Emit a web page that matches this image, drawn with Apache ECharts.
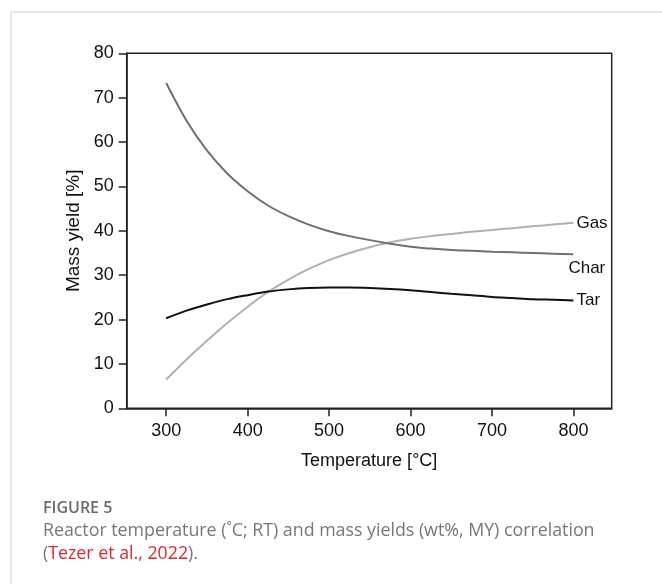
<!DOCTYPE html>
<html>
<head>
<meta charset="utf-8">
<script src="https://cdn.jsdelivr.net/npm/echarts@6/dist/echarts.min.js"></script>
<style>html,body{margin:0;padding:0;background:#fff;}#c{width:662px;height:584px;}</style>
</head>
<body>
<div id="c"></div>
<script>
// Data
var temperatures = [300, 325, 350, 375, 400, 425, 450, 475, 500, 525, 550, 575, 600, 625, 650, 675, 700, 725, 750, 775, 800];
var gasYield  = [6.5, 11.0, 15.2, 19.2, 22.9, 26.2, 29.0, 31.4, 33.4, 35.0, 36.3, 37.4, 38.2, 38.8, 39.3, 39.8, 40.2, 40.6, 41.0, 41.4, 41.8];
var charYield = [73.3, 64.8, 58.1, 52.9, 48.9, 45.7, 43.3, 41.4, 39.9, 38.8, 37.9, 37.1, 36.4, 36.0, 35.7, 35.5, 35.3, 35.15, 35.0, 34.85, 34.7];
var tarYield  = [20.3, 22.0, 23.4, 24.6, 25.5, 26.3, 26.8, 27.1, 27.2, 27.2, 27.1, 26.9, 26.6, 26.2, 25.8, 25.45, 25.1, 24.85, 24.6, 24.45, 24.3];
var xTicks = [300, 400, 500, 600, 700, 800];
var yTicks = [0, 10, 20, 30, 40, 50, 60, 70, 80];
var seriesNames = ['Gas', 'Char', 'Tar'];

function pairs(vals) { return temperatures.map(function (t, i) { return [t, vals[i]]; }); }

var FONT = '"Liberation Sans", Arial, sans-serif';
var chart = echarts.init(document.getElementById('c'), null, {renderer: 'canvas'});
var axisCol = '#222';

chart.setOption({
  animation: false,
  backgroundColor: '#fff',
  grid: {left: 126.7, top: 53.3, right: 50.3, bottom: 175.7, outerBoundsMode: 'none',
         show: true, borderColor: axisCol, borderWidth: 1.5, backgroundColor: 'transparent'},
  xAxis: {
    type: 'value', min: 251.5, max: 847,
    name: 'Temperature [°C]', nameLocation: 'middle', nameGap: 44,
    nameTextStyle: {fontFamily: FONT, fontSize: 18, color: '#111'},
    axisLine: {show: true, lineStyle: {color: axisCol, width: 1.5}},
    axisTick: {show: true, length: 8, lineStyle: {color: axisCol, width: 1.5}, customValues: xTicks},
    axisLabel: {fontFamily: FONT, fontSize: 18, color: '#111', margin: 14, customValues: xTicks},
    splitLine: {show: false}
  },
  yAxis: {
    type: 'value', min: 0, max: 80,
    name: 'Mass yield [%]', nameLocation: 'middle', nameGap: 41,
    nameTextStyle: {fontFamily: FONT, fontSize: 19, color: '#111'},
    axisLine: {show: true, lineStyle: {color: axisCol, width: 1.5}},
    axisTick: {show: true, length: 8, lineStyle: {color: axisCol, width: 1.5}, customValues: yTicks},
    axisLabel: {fontFamily: FONT, fontSize: 18, color: '#111', margin: 13, customValues: yTicks},
    splitLine: {show: false}
  },
  series: [
    {name: seriesNames[0], type: 'line', smooth: 0.3, showSymbol: false, data: pairs(gasYield),
     lineStyle: {color: '#b0b0b0', width: 2},
     endLabel: {show: true, formatter: '{a}', fontFamily: FONT, fontSize: 17, color: '#111', distance: 3}},
    {name: seriesNames[1], type: 'line', smooth: 0.3, showSymbol: false, data: pairs(charYield),
     lineStyle: {color: '#707070', width: 2},
     endLabel: {show: true, formatter: '{a}', fontFamily: FONT, fontSize: 17, color: '#111', distance: 0, offset: [-5, 14]}},
    {name: seriesNames[2], type: 'line', smooth: 0.3, showSymbol: false, data: pairs(tarYield),
     lineStyle: {color: '#111', width: 2},
     endLabel: {show: true, formatter: '{a}', fontFamily: FONT, fontSize: 17, color: '#111', distance: 3}}
  ],
  graphic: [
    {type: 'line', shape: {x1: 11, y1: 12, x2: 662, y2: 12}, style: {stroke: '#dcdcdc', lineWidth: 1.5}, silent: true},
    {type: 'line', shape: {x1: 11, y1: 12, x2: 11, y2: 584}, style: {stroke: '#dcdcdc', lineWidth: 1.5}, silent: true},
    {type: 'text', left: 43, top: 500, style: {text: 'FIGURE 5', font: '600 16px "Open Sans", sans-serif', fill: '#6b6b6b'}},
    {type: 'text', left: 43, top: 522, style: {text: 'Reactor temperature (˚C; RT) and mass yields (wt%, MY) correlation', font: '17.8px "Open Sans", sans-serif', fill: '#777'}},
    {type: 'text', left: 43, top: 545, style: {
      text: '{g|(}{r|Tezer et al., 2022}{g|).}',
      font: '17.8px "Open Sans", sans-serif',
      rich: {g: {fill: '#777', font: '17.8px "Open Sans", sans-serif'}, r: {fill: '#e2262d', font: '17.8px "Open Sans", sans-serif'}}
    }}
  ]
});
</script>
</body>
</html>
